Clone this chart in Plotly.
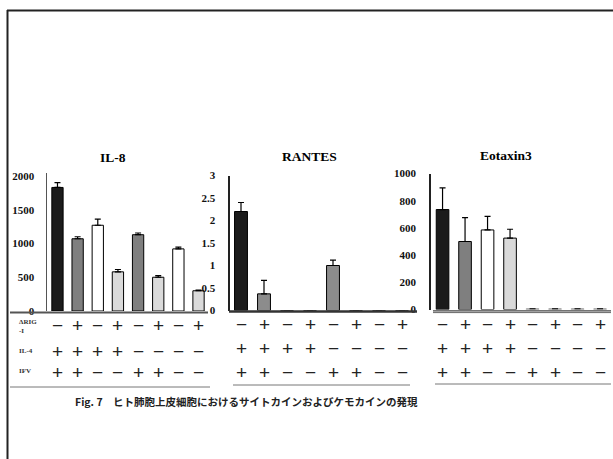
import plotly.graph_objects as go

# ---- data -------------------------------------------------------------
conditions = ["1", "2", "3", "4", "5", "6", "7", "8"]
rig_row = ["-", "+", "-", "+", "-", "+", "-", "+"]
il4_row = ["+", "+", "+", "+", "-", "-", "-", "-"]
ifv_row = ["+", "+", "-", "-", "+", "+", "-", "-"]

il8_mean = [1830, 1070, 1270, 580, 1130, 500, 920, 300]
il8_err = [70, 30, 90, 35, 25, 25, 25, 10]

rantes_mean = [2.2, 0.37, 0, 0, 1.0, 0, 0, 0]
rantes_err = [0.2, 0.3, 0, 0, 0.12, 0, 0, 0]

eotaxin_mean = [735, 500, 585, 525, 5, 5, 5, 5]
eotaxin_err = [160, 175, 100, 65, 0, 0, 0, 0]

panel_titles = ["IL-8", "RANTES", "Eotaxin3"]
row_labels = ["ΔRIG<br>-I", "IL-4", "IFV"]
caption = "Fig. 7　ヒト肺胞上皮細胞におけるサイトカインおよびケモカインの発現"

# ---- styling ----------------------------------------------------------
W, H = 613, 459
BLACK = "#1b1b1b"
GREY = "#7f7f7f"
LIGHT = "#dadada"
WHITE = "#ffffff"
il8_colors = [BLACK, GREY, WHITE, LIGHT, GREY, LIGHT, WHITE, LIGHT]
rantes_colors = [BLACK, "#8c8c8c", WHITE, LIGHT, "#8c8c8c", LIGHT, WHITE, LIGHT]
eot_colors = [BLACK, GREY, WHITE, LIGHT, "#9a9a9a", "#9a9a9a", "#9a9a9a", "#9a9a9a"]
eot_lines = ["black"] * 4 + ["#9a9a9a"] * 4

SERIF = "Liberation Serif"


def px(x):
    return x / W


def py(y):
    return 1 - y / H


fig = go.Figure()


def add_panel(idx, means, errs, colors, line_colors):
    suffix = "" if idx == 1 else str(idx)
    fig.add_trace(go.Bar(
        x=list(range(len(conditions))),
        y=means,
        width=0.56,
        marker=dict(color=colors, line=dict(color=line_colors, width=1)),
        error_y=dict(type="data", array=errs, arrayminus=[0] * len(errs),
                     symmetric=False, color="black", thickness=1.2, width=3),
        xaxis="x" + suffix, yaxis="y" + suffix,
        showlegend=False,
    ))


add_panel(1, il8_mean, il8_err, il8_colors, ["black"] * 8)
add_panel(2, rantes_mean, rantes_err, rantes_colors, ["black"] * 8)
add_panel(3, eotaxin_mean, eotaxin_err, eot_colors, eot_lines)

tick_font = dict(family=SERIF, size=11, color="#111111", weight="bold")

# panel geometry in pixels: (left, step, y_zero, y_top, range_top)
panels = [
    dict(left=47.4, step=20.15, y0=311.0, y1=173.0, top=2044),
    dict(left=229.5, step=23.0, y0=310.5, y1=175.5, top=3),
    dict(left=431.3, step=22.5, y0=309.5, y1=173.5, top=1000),
]
yticks = [
    ([0, 500, 1000, 1500, 2000], ["0", "500", "1000", "1500", "2000"]),
    ([0, 0.5, 1, 1.5, 2, 2.5, 3], ["0", "0.5", "1", "1.5", "2", "2.5", "3"]),
    ([0, 200, 400, 600, 800, 1000], ["0", "200", "400", "600", "800", "1000"]),
]
axis_widths = [1, 2, 2]
standoffs = [10, 10, 11]

for i, p in enumerate(panels):
    suffix = "" if i == 0 else str(i + 1)
    xdom = [px(p["left"]), px(p["left"] + 8 * p["step"])]
    ydom = [py(p["y0"]), py(p["y1"])]
    fig.layout["xaxis" + suffix] = dict(
        domain=xdom, range=[-0.5, 7.5], showticklabels=False, ticks="",
        showgrid=False, zeroline=False, showline=False,
        anchor="y" + suffix, fixedrange=True,
    )
    fig.layout["yaxis" + suffix] = dict(
        domain=ydom, range=[0, p["top"]], tickvals=yticks[i][0],
        ticktext=yticks[i][1], tickfont=tick_font, ticks="",
        ticklabelstandoff=standoffs[i],
        showgrid=False, zeroline=False, showline=True,
        linecolor="#222222" if i else "#555555", linewidth=axis_widths[i],
        anchor="x" + suffix, fixedrange=True,
    )

# ---- titles -----------------------------------------------------------
title_pos = [(113, 157), (309.5, 156), (506, 155)]
for t, (tx, ty) in zip(panel_titles, title_pos):
    fig.add_annotation(text="<b>%s</b>" % t, x=px(tx), y=py(ty), xref="paper",
                       yref="paper", showarrow=False, xanchor="center",
                       yanchor="middle",
                       font=dict(family=SERIF, size=13.5, color="black"))

# ---- condition table under each panel ---------------------------------
row_y = [
    (325, 351, 372),
    (324, 348, 372),
    (324, 348, 372),
]
sym = {"+": "+", "-": "−"}
for i in range(3):
    xr = "x" if i == 0 else "x%d" % (i + 1)
    for r, row in enumerate([rig_row, il4_row, ifv_row]):
        for k, s in enumerate(row):
            fig.add_annotation(text=sym[s], x=k, y=py(row_y[i][r]), xref=xr,
                               yref="paper", showarrow=False, yanchor="middle",
                               font=dict(family="Liberation Sans", size=19,
                                         color="#222222"))

label_y = [326.5, 350.7, 371]
for lbl, ly in zip(row_labels, label_y):
    fig.add_annotation(text="<b>%s</b>" % lbl, x=px(17), y=py(ly), xref="paper",
                       yref="paper", showarrow=False, xanchor="left",
                       yanchor="middle", align="left",
                       font=dict(family=SERIF, size=7, color="#333333"))

# ---- caption ----------------------------------------------------------
fig.add_annotation(text="<b>%s</b>" % caption, x=px(246), y=py(401),
                   xref="paper", yref="paper", showarrow=False,
                   xanchor="center", yanchor="middle",
                   font=dict(family="Noto Sans CJK JP", size=10.5, color="#222222"))

# ---- frame and rule lines ---------------------------------------------
def hline(x0, x1, y, width, color):
    fig.add_shape(type="line", xref="paper", yref="paper",
                  x0=px(x0), x1=px(x1), y0=py(y), y1=py(y),
                  line=dict(color=color, width=width))


def vline(x, y0, y1, width, color):
    fig.add_shape(type="line", xref="paper", yref="paper",
                  x0=px(x), x1=px(x), y0=py(y0), y1=py(y1),
                  line=dict(color=color, width=width))


vline(7.5, 10, 459, 2, "#222222")
hline(7, 613, 10.5, 2, "#222222")

hline(10, 208, 312.5, 2, "#555555")
hline(10, 210, 387, 1, "#777777")

hline(229, 417, 311.5, 2.5, "#333333")
hline(233, 410, 385, 1, "#777777")

hline(433, 611, 310.8, 1.2, "#444444")
hline(433, 611, 312.6, 1, "#666666")
hline(435, 611, 384, 1, "#777777")

fig.update_layout(
    width=W, height=H,
    margin=dict(l=0, r=0, t=0, b=0, pad=0, autoexpand=False),
    paper_bgcolor="white", plot_bgcolor="rgba(0,0,0,0)",
    bargap=0.44,
)

fig.write_html("out.html", config={"displayModeBar": False})
